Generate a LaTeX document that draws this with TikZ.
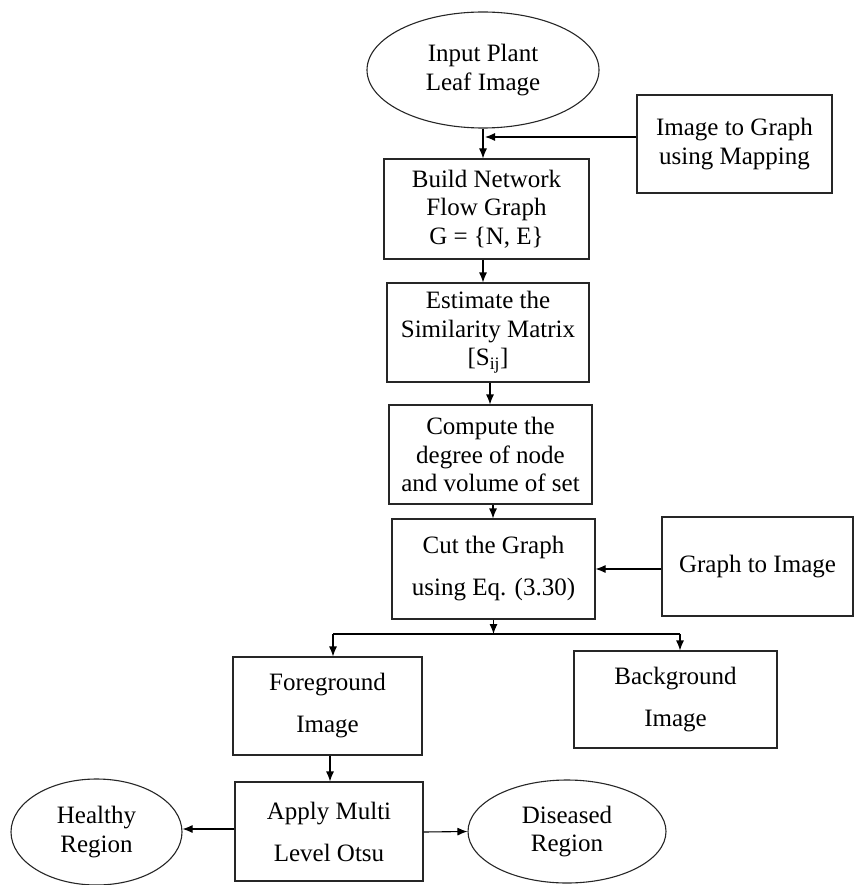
\documentclass[tikz,border=0pt]{standalone}
\usepackage{fontspec}
\setmainfont{Liberation Serif}
\usetikzlibrary{arrows.meta,shapes.geometric}

\tikzset{
  box/.style={rectangle, draw=black!85, line width=1.1pt, align=center, inner sep=2pt,
    font=\fontsize{25pt}{28.5pt}\selectfont},
  widebox/.style={box, font=\fontsize{25pt}{42pt}\selectfont},
  oval/.style={ellipse, draw=black!85, line width=1.1pt, align=center, inner sep=0pt,
    font=\fontsize{25pt}{28.5pt}\selectfont},
  arr/.style={draw=black, line width=1.1pt, -{Latex[length=10pt,width=8pt]}}
}

\begin{document}
\begin{tikzpicture}[x=1pt, y=-1pt]
		\useasboundingbox (0,0) rectangle (854,885);
		% main column
		\node[oval, minimum width=232pt, minimum height=116pt] (in) at (483,70){Input Plant\\Leaf Image};
		\node[box, minimum width=205pt, minimum height=100pt] (build) at (486.5,209){Build Network\\Flow Graph\\G = \{N, E\}};
		\node[box, minimum width=202pt, minimum height=99pt] (est) at (488,332.5){Estimate the\\Similarity Matrix\\{[}S\textsubscript{ij}{]}};
		\node[box, minimum width=203pt, minimum height=99pt] (comp) at (490.5,454.5){Compute the\\degree of node\\and volume of set};
		\node[widebox, minimum width=203pt, minimum height=100pt] (cut) at (493.5,569){Cut the Graph\\using Eq. (3.30)};
		
		% side boxes
		\node[box, minimum width=195pt, minimum height=98pt] (i2g) at (734.5,144){Image to Graph\\using Mapping};
		\node[box, minimum width=191pt, minimum height=99pt] (g2i) at (757.5,566.5){Graph to Image};
		
		% split
		\node[widebox, minimum width=189pt, minimum height=98pt] (fg) at (327.5,706){Foreground\\Image};
		\node[widebox, minimum width=203pt, minimum height=97pt] (bg) at (675.5,699.5){Background\\Image};
		\node[widebox, minimum width=188pt, minimum height=99pt] (apply) at (329,831.5){Apply Multi\\Level Otsu};
		\node[oval, minimum width=171pt, minimum height=106pt] (hr) at (96.5,832){Healthy\\Region};
		\node[oval, minimum width=198pt, minimum height=103pt] (dr) at (567,831.5){Diseased\\Region};
		\coordinate (split) at (493.5,634);
		
		\draw[arr] (in.south) -- (in.south |- build.north);
		\draw[arr] (i2g.west |- 0,137) -- (485,137);
		\draw[arr] (build.south -| 483,0) -- (est.north -| 483,0);
		\draw[arr] (est.south -| 490,0) -- (comp.north -| 490,0);
		\draw[arr] (comp.south -| 493,0) -- (cut.north -| 493,0);
		\draw[arr] (g2i.west |- cut.east) -- (cut.east);
		\draw[arr] (cut.south) -- (split);
		\draw[line width=1.1pt] (333,634) -- (680,634);
		\draw[arr] (333,634) -- (fg.north -| 333,0);
		\draw[arr] (680,634) -- (bg.north -| 680,0);
		\draw[arr] (fg.south -| 330,0) -- (apply.north -| 330,0);
		\draw[arr] (apply.west |- 0,829) -- (hr.east |- 0,829);
		\draw[arr] (apply.east |- 0,832) -- (dr.west);
		\end{tikzpicture}
\end{document}
